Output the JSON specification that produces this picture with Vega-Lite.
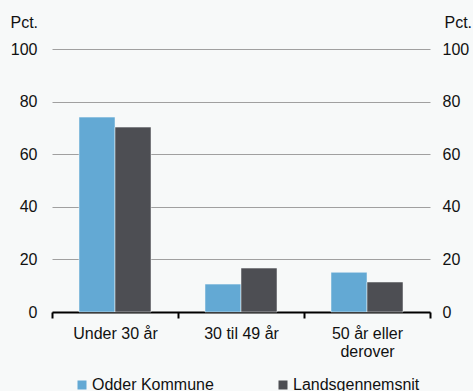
{
  "$schema": "https://vega.github.io/schema/vega-lite/v6.json",
  "width": 378,
  "height": 263,
  "autosize": {"type": "none"},
  "padding": {"left": 52, "top": 49, "right": 43, "bottom": 79},
  "background": "#f7f9f9",
  "config": {
    "view": {"stroke": null},
    "font": "Liberation Sans",
    "axis": {"labelFont": "Liberation Sans", "titleFont": "Liberation Sans", "labelColor": "#111111", "titleColor": "#111111"}
  },
  "data": {
    "values": [
      {"gruppe": "Under 30 år", "serie": "Odder Kommune", "pct": 74.1},
      {"gruppe": "Under 30 år", "serie": "Landsgennemsnit", "pct": 70.3},
      {"gruppe": "30 til 49 år", "serie": "Odder Kommune", "pct": 10.6},
      {"gruppe": "30 til 49 år", "serie": "Landsgennemsnit", "pct": 16.7},
      {"gruppe": "50 år eller derover", "serie": "Odder Kommune", "pct": 15.1},
      {"gruppe": "50 år eller derover", "serie": "Landsgennemsnit", "pct": 11.4}
    ]
  },
  "encoding": {
    "x": {
      "field": "gruppe", "type": "nominal", "sort": null,
      "scale": {"paddingInner": 0, "paddingOuter": 0},
      "axis": {
        "title": null, "labelAngle": 0, "labelFontSize": 16, "labelPadding": 7,
        "domainColor": "#000000", "domainWidth": 2, "tickColor": "#000000", "tickWidth": 2, "tickSize": 6,
        "tickBand": "extent",
        "labelExpr": "datum.value == '50 år eller derover' ? ['50 år eller', 'derover'] : datum.value",
        "labelLineHeight": 18
      }
    },
    "xOffset": {"field": "serie", "type": "nominal", "sort": ["Odder Kommune", "Landsgennemsnit"], "scale": {"paddingInner": 0, "paddingOuter": 0.75}},
    "y": {"field": "pct", "type": "quantitative", "scale": {"domain": [0, 100]}},
    "color": {
      "field": "serie", "type": "nominal",
      "scale": {"domain": ["Odder Kommune", "Landsgennemsnit"], "range": ["#63a9d4", "#4d4e53"]},
      "legend": {
        "title": null, "orient": "none", "legendX": 22, "legendY": 328, "direction": "horizontal", "columns": 2,
        "symbolType": "square", "symbolSize": 81, "symbolStrokeWidth": 0, "labelFontSize": 16, "labelOffset": 2,
        "columnPadding": 61, "labelColor": "#111111"
      }
    }
  },
  "layer": [
    {
      "mark": {"type": "bar", "stroke": "#f7f9f9", "strokeWidth": 0.5},
      "encoding": {
        "y": {
          "field": "pct", "type": "quantitative", "scale": {"domain": [0, 100]},
          "axis": {
            "values": [0, 20, 40, 60, 80, 100], "grid": true, "gridColor": "#a0a0a0", "gridWidth": 1,
            "domain": false, "ticks": false, "labelFontSize": 16, "labelPadding": 15,
            "title": "Pct.", "titleAngle": 0, "titleAlign": "left", "titleBaseline": "alphabetic",
            "titleX": -42, "titleY": -22, "titleFontSize": 16, "titleFontWeight": "normal"
          }
        }
      }
    },
    {
      "mark": {"type": "bar", "opacity": 0},
      "encoding": {
        "y": {
          "field": "pct", "type": "quantitative", "scale": {"domain": [0, 100]},
          "axis": {
            "orient": "right", "values": [0, 20, 40, 60, 80, 100], "grid": false,
            "domain": false, "ticks": false, "labelFontSize": 16, "labelPadding": 12,
            "title": "Pct.", "titleAngle": 0, "titleAlign": "left", "titleBaseline": "alphabetic",
            "titleX": 14, "titleY": -22, "titleFontSize": 16, "titleFontWeight": "normal"
          }
        }
      }
    }
  ],
  "resolve": {"axis": {"y": "independent"}}
}
